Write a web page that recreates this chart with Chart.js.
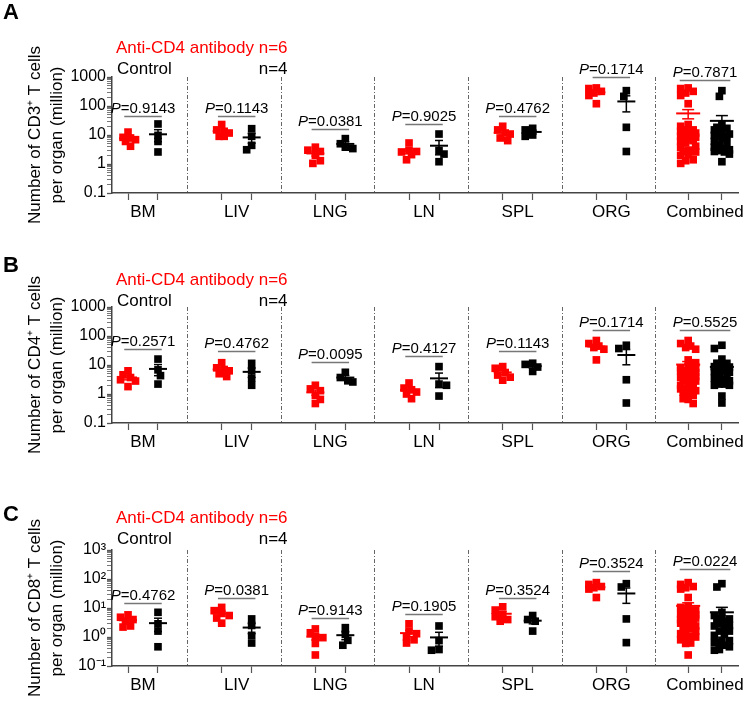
<!DOCTYPE html>
<html>
<head>
<meta charset="utf-8">
<script src="https://cdn.jsdelivr.net/npm/chart.js@4.4.1/dist/chart.umd.min.js"></script>
<style>
  body { margin: 0; background: #fff; }
  #page { position: relative; width: 751px; height: 701px; font-family: 'Liberation Sans', Arial, sans-serif; }
  .panel { position: absolute; left: 0; width: 751px; height: 228px; }
  .tag { position: absolute; left: 3px; font-weight: bold; font-size: 22px; line-height: 25px; }
</style>
</head>
<body>
<div id="page">
  <div class="panel" style="top:0"><canvas id="cd3Chart"></canvas></div>
  <div class="panel" style="top:230px"><canvas id="cd4Chart"></canvas></div>
  <div class="panel" style="top:473px"><canvas id="cd8Chart"></canvas></div>
  <div class="tag" style="top:-1px">A</div>
  <div class="tag" style="top:252px">B</div>
  <div class="tag" style="top:501px">C</div>
</div>
<script>
const organs = ['BM', 'LIV', 'LNG', 'LN', 'SPL', 'ORG'];
const seriesNames = ['Anti-CD4 antibody', 'Control'];

// cells per organ (million), one list per organ in the order above
const cd3Anti = [[12.6, 8.3, 7.9, 6.9, 6.0, 4.1], [23, 15, 13.4, 11.7, 9, 9], [3.8, 3.0, 2.7, 2.0, 1.3, 1.05],
                 [5.3, 2.9, 2.7, 2.6, 2.1, 1.4], [20, 15, 11.7, 10.8, 7.9, 6.4], [420, 400, 320, 280, 230, 120]];
const cd3Ctrl = [[24, 9.7, 6, 2.6], [16.5, 9, 4.4, 3.1], [7.5, 5.0, 3.8, 3.4],
                 [10.8, 2.9, 2.2, 1.2], [17, 15, 10, 9], [338, 215, 18.4, 2.7]];
const cd4Anti = [[6.3, 4.6, 3.7, 3.1, 2.8, 1.8], [12, 8, 7, 6.3, 5, 4], [2, 1.5, 1.3, 0.9, 0.65, 0.47],
                 [2.4, 1.6, 1.4, 1.17, 1.0, 0.69], [8.8, 7.7, 5.5, 4.5, 3.8, 3.0], [70, 55, 45, 40, 35, 15]];
const cd4Ctrl = [[16, 6.8, 4.3, 2.2], [11.4, 6.3, 3.5, 2], [5.6, 3.7, 2.85, 2.6],
                 [8.8, 2.2, 2.0, 0.85], [11.5, 10.5, 8.5, 6], [48, 37, 3.1, 0.49]];
const cd8Anti = [[5.8, 4.8, 4.0, 3.5, 2.4, 2.2], [10.5, 8.1, 6.5, 5.5, 4.5, 3.0], [1.9, 1.4, 1.05, 0.95, 0.6, 0.24],
                 [2.85, 1.6, 1.3, 1.0, 0.8, 0.62], [11, 8.5, 6, 5, 4, 3.5], [75, 65, 55, 50, 45, 23]];
const cd8Ctrl = [[7.1, 2.85, 1.6, 0.46], [4.2, 2.5, 1.14, 0.62], [2.1, 1.23, 0.77, 0.52],
                 [2.4, 0.75, 0.37, 0.35], [5.5, 4, 3.5, 1.6], [69, 53, 4.2, 0.64]];

// P values and the height of each comparison bar (same units as the data)
const pCd3 = ['0.9143', '0.1143', '0.0381', '0.9025', '0.4762', '0.1714', '0.7871'];
const pCd4 = ['0.2571', '0.4762', '0.0095', '0.4127', '0.1143', '0.1714', '0.5525'];
const pCd8 = ['0.4762', '0.0381', '0.9143', '0.1905', '0.3524', '0.3524', '0.0224'];
const barCd3 = [44, 44, 16.5, 24, 44, 970, 810];
const barCd4 = [37, 31, 12.6, 20, 30, 165, 165];
const barCd8 = [14.4, 22, 4.6, 6.2, 23, 196, 214];

const yTicks = [0.1, 1, 10, 100, 1000];
const yLabelsPlain = ['0.1', '1', '10', '100', '1000'];
const yLabelsExp = ['10⁻¹', '10⁰', '10¹', '10²', '10³'];

const RED = '#ff0000';
const FONT = "'Liberation Sans', Arial, sans-serif";
const PX_UNIT = 93.7, PX_DECADE = 29;

Chart.defaults.font.family = FONT;
Chart.defaults.color = '#000';

// spread points sideways a little where they pile up (like a scatter dot plot)
function swarm(vals) {
  const order = vals.map((_, i) => i).sort((a, b) => vals[b] - vals[a]);
  const placed = [], off = [];
  order.forEach((i, n) => {
    const py = -Math.log10(vals[i]) * PX_DECADE;
    let best = 0, bestD = -1;
    for (let k = 0; k <= 6; k++) {
      const dx = Math.ceil(k / 2) * 2.5 * ((k + n) % 2 ? 1 : -1);
      const d = placed.reduce((mn, p) => Math.min(mn, Math.hypot(p.x - dx, p.y - py)), Infinity);
      if (d >= 6) { best = dx; bestD = d; break; }
      if (d > bestD) { best = dx; bestD = d; }
    }
    off[i] = best;
    placed.push({ x: best, y: py });
  });
  return off;
}

const sideOffset = g => g === organs.length ? 0.18 : 0.16;

function points(groups, side) {
  const pts = [];
  groups.forEach((vals, g) => {
    const base = g + side * sideOffset(g);
    const off = swarm(vals);
    vals.forEach((v, i) => pts.push({ x: base + off[i] / PX_UNIT, y: v }));
  });
  return pts;
}

function stats(vals) {
  const n = vals.length, m = vals.reduce((a, b) => a + b, 0) / n;
  const sd = Math.sqrt(vals.reduce((a, b) => a + (b - m) ** 2, 0) / (n - 1));
  return { m, sem: sd / Math.sqrt(n) };
}

function line(ctx, x1, y1, x2, y2) {
  ctx.beginPath(); ctx.moveTo(x1, y1); ctx.lineTo(x2, y2); ctx.stroke();
}

function decor(cfg, antiG, ctrlG) {
  return {
    id: 'decor',
    beforeDatasetsDraw(chart) {
      const { ctx, chartArea: a, scales: { x } } = chart;
      ctx.save();
      ctx.strokeStyle = '#666'; ctx.lineWidth = 1; ctx.setLineDash([4, 2, 1, 2]);
      for (let i = 0; i < organs.length; i++) {
        const px = Math.round(x.getPixelForValue(i + 0.47)) + 0.5;
        line(ctx, px, a.top, px, a.bottom);
      }
      ctx.restore();
    },
    afterDatasetsDraw(chart) {
      const { ctx, chartArea: a, scales: { x, y } } = chart;
      ctx.save();
      // mean +/- SEM
      [[antiG, -1, RED], [ctrlG, 1, '#000']].forEach(([groups, side, col]) => {
        groups.forEach((vals, g) => {
          const wide = g === organs.length;
          const cx = x.getPixelForValue(g + side * sideOffset(g));
          const { m, sem } = stats(vals);
          const ym = y.getPixelForValue(m);
          const yt = y.getPixelForValue(m + sem);
          const yb = y.getPixelForValue(Math.max(m - sem, 0.05));
          const hw = wide ? 12 : 9, cw = wide ? 6 : 4;
          ctx.strokeStyle = col;
          ctx.lineWidth = 2;
          line(ctx, cx - hw, ym, cx + hw, ym);
          ctx.lineWidth = 1.5;
          line(ctx, cx, yt, cx, yb);
          line(ctx, cx - cw, yt, cx + cw, yt);
          line(ctx, cx - cw, yb, cx + cw, yb);
        });
      });
      // comparison bars with P values
      cfg.p.forEach((p, g) => {
        const hw = g === organs.length ? 0.27 : 0.2;
        const x1 = x.getPixelForValue(g - hw), x2 = x.getPixelForValue(g + hw);
        const yy = Math.round(y.getPixelForValue(cfg.bars[g])) + 0.5;
        ctx.strokeStyle = '#777'; ctx.lineWidth = 1.3;
        line(ctx, x1, yy, x2, yy);
        const rest = '=' + p;
        ctx.font = `italic 15px ${FONT}`;
        const wp = ctx.measureText('P').width;
        ctx.font = `15px ${FONT}`;
        const wr = ctx.measureText(rest).width;
        const sx = (x1 + x2) / 2 - (wp + wr) / 2;
        ctx.fillStyle = '#000'; ctx.textAlign = 'left'; ctx.textBaseline = 'alphabetic';
        ctx.font = `italic 15px ${FONT}`;
        ctx.fillText('P', sx, yy - 4);
        ctx.font = `15px ${FONT}`;
        ctx.fillText(rest, sx + wp, yy - 4);
      });
      // legend
      ctx.font = `17px ${FONT}`;
      ctx.textBaseline = 'alphabetic'; ctx.textAlign = 'left';
      const t1 = `${seriesNames[0]} n=${antiG[0].length}`;
      ctx.fillStyle = RED;
      ctx.fillText(t1, a.left + 4, a.top - 24 + cfg.shift);
      const w = ctx.measureText(t1).width;
      ctx.fillStyle = '#000';
      ctx.fillText(seriesNames[1], a.left + 5, a.top - 3 + cfg.shift);
      ctx.textAlign = 'right';
      ctx.fillText(`n=${ctrlG[0].length}`, a.left + 4 + w, a.top - 3 + cfg.shift);
      ctx.restore();
    }
  };
}

const panels = [
  { id: 'cd3Chart', anti: cd3Anti, ctrl: cd3Ctrl, p: pCd3, bars: barCd3, cell: 'CD3⁺', yLabels: yLabelsPlain, shift: 0 },
  { id: 'cd4Chart', anti: cd4Anti, ctrl: cd4Ctrl, p: pCd4, bars: barCd4, cell: 'CD4⁺', yLabels: yLabelsPlain, shift: 1.5 },
  { id: 'cd8Chart', anti: cd8Anti, ctrl: cd8Ctrl, p: pCd8, bars: barCd8, cell: 'CD8⁺', yLabels: yLabelsExp, shift: -3.5 }
];

const groupLabels = [...organs, 'Combined'];

panels.forEach(cfg => {
  const antiG = [...cfg.anti, cfg.anti.flat()];
  const ctrlG = [...cfg.ctrl, cfg.ctrl.flat()];
  const pointStyle = col => ({
    pointStyle: 'rect', pointRadius: 5.4, pointBackgroundColor: col, pointBorderWidth: 0,
    backgroundColor: col, borderColor: col, showLine: false
  });

  new Chart(document.getElementById(cfg.id), {
    type: 'scatter',
    data: {
      datasets: [
        { label: seriesNames[0], data: points(antiG, -1), ...pointStyle(RED) },
        { label: seriesNames[1], data: points(ctrlG, 1), ...pointStyle('#000') }
      ]
    },
    options: {
      responsive: true,
      maintainAspectRatio: false,
      animation: false,
      events: [],
      layout: { padding: { top: 77, right: 13, left: 0, bottom: 0 } },
      plugins: { legend: { display: false }, tooltip: { enabled: false } },
      scales: {
        x: {
          type: 'linear', min: -0.331, max: 6.352,
          afterFit: s => { s.height = 35; },
          afterBuildTicks: s => {
            s.ticks = [];
            groupLabels.forEach((_, g) => {
              [-1, 0, 1].forEach(k => s.ticks.push({ value: g + k * sideOffset(g) }));
            });
          },
          ticks: {
            autoSkip: false, maxRotation: 0, minRotation: 0, padding: 2,
            font: { size: 17 },
            callback: (v, i) => i % 3 === 1 ? groupLabels[(i - 1) / 3] : ''
          },
          grid: {
            drawOnChartArea: false, tickLength: 7, tickWidth: 1.2,
            tickColor: c => c.index % 3 === 1 ? 'rgba(0,0,0,0)' : '#555'
          },
          border: { display: true, color: '#444', width: 1.5 }
        },
        y: {
          type: 'logarithmic', min: 0.1, max: 1000,
          afterFit: s => { s.width = 112; },
          afterBuildTicks: s => {
            const t = [];
            for (let e = -1; e <= 3; e++) {
              for (let m = 1; m <= 9; m++) {
                const v = m * Math.pow(10, e);
                if (v <= 1000.0001) t.push({ value: v, major: m === 1 });
              }
            }
            s.ticks = t;
          },
          ticks: {
            autoSkip: false, padding: 1, font: { size: 16 },
            callback: v => {
              const i = yTicks.findIndex(t => Math.abs(t - v) / t < 1e-6);
              return i >= 0 ? cfg.yLabels[i] : '';
            }
          },
          grid: {
            drawOnChartArea: false, tickLength: 5,
            tickWidth: c => c.tick && c.tick.major ? 1.3 : 0.8,
            tickColor: '#555'
          },
          border: { display: true, color: '#444', width: 1.5 },
          title: {
            display: true,
            text: [`Number of ${cfg.cell} T cells`, 'per organ (million)'],
            font: { size: 17, lineHeight: 1.3 },
            padding: { top: 24, bottom: 0 }
          }
        }
      }
    },
    plugins: [decor(cfg, antiG, ctrlG)]
  });
});
</script>
</body>
</html>
